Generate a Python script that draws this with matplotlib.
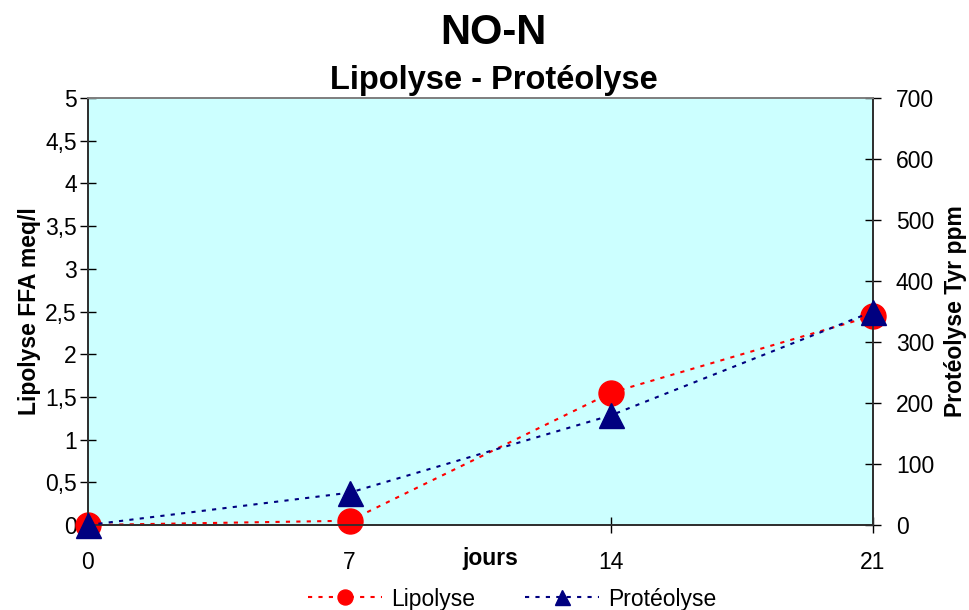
import matplotlib.pyplot as plt
from matplotlib.ticker import FuncFormatter

plt.rcParams['font.family'] = ['Liberation Sans', 'DejaVu Sans']

# Données
jours = [0, 7, 14, 21]
lipolyse = [0.0, 0.05, 1.55, 2.45]      # FFA meq/l
proteolyse = [0, 53, 180, 350]          # Tyr ppm

x_ticks = [0, 7, 14, 21]
y_ticks_gauche = [0, 0.5, 1, 1.5, 2, 2.5, 3, 3.5, 4, 4.5, 5]
y_ticks_droite = [0, 100, 200, 300, 400, 500, 600, 700]

fig = plt.figure(figsize=(9.7, 6.1), dpi=100)
ax = fig.add_axes([88 / 970, 85 / 610, 785 / 970, 427 / 610])
ax.set_facecolor('#CCFFFF')
ax2 = ax.twinx()

# Courbes
l1, = ax.plot(jours, lipolyse, color='#FF0000', linestyle=(0, (2, 3)), linewidth=1.5,
              marker='o', markersize=18, clip_on=False, zorder=3, label='Lipolyse')
l2, = ax2.plot(jours, proteolyse, color='#000080', linestyle=(0, (2, 3)), linewidth=1.5,
               marker='^', markersize=18, clip_on=False, zorder=4, label='Protéolyse')

ax.set_xlim(0, 21)
ax.set_ylim(0, 5)
ax2.set_ylim(0, 700)
ax.set_xticks(x_ticks)
ax.set_yticks(y_ticks_gauche)
ax2.set_yticks(y_ticks_droite)

# virgule décimale
ax.yaxis.set_major_formatter(FuncFormatter(lambda v, p: ('%g' % v).replace('.', ',')))

for a in (ax, ax2):
    a.tick_params(direction='inout', length=11, width=1, labelsize=16.5)
ax.tick_params(axis='y', pad=2.5)
ax.tick_params(axis='x', pad=13)
ax2.tick_params(axis='y', pad=11)

for a in (ax, ax2):
    for s in ('left', 'bottom', 'right'):
        a.spines[s].set_color('#303030')
        a.spines[s].set_linewidth(1.3)
    a.spines['top'].set_color('#808080')
    a.spines['top'].set_linewidth(1.3)

ax.set_ylabel('Lipolyse FFA meq/l', fontsize=16.5, fontweight='bold', labelpad=3)
ax2.set_ylabel('Protéolyse Tyr ppm', fontsize=16.5, fontweight='bold', labelpad=7)
ax.text(0.512, -0.078, 'jours', transform=ax.transAxes, ha='center', va='center',
        fontsize=16.5, fontweight='bold')

fig.text(0.509, 0.946, 'NO-N', ha='center', va='center', fontsize=30, fontweight='bold')
fig.text(0.509, 0.868, 'Lipolyse - Protéolyse', ha='center', va='center',
         fontsize=23.5, fontweight='bold')

fig.legend(handles=[l1, l2], loc='center', bbox_to_anchor=(0.528, 0.018), ncol=2,
           frameon=False, fontsize=16.5, markerscale=0.6, handlelength=3.2,
           columnspacing=2.2, handletextpad=0.4)

fig.savefig('out.png', dpi=100)
